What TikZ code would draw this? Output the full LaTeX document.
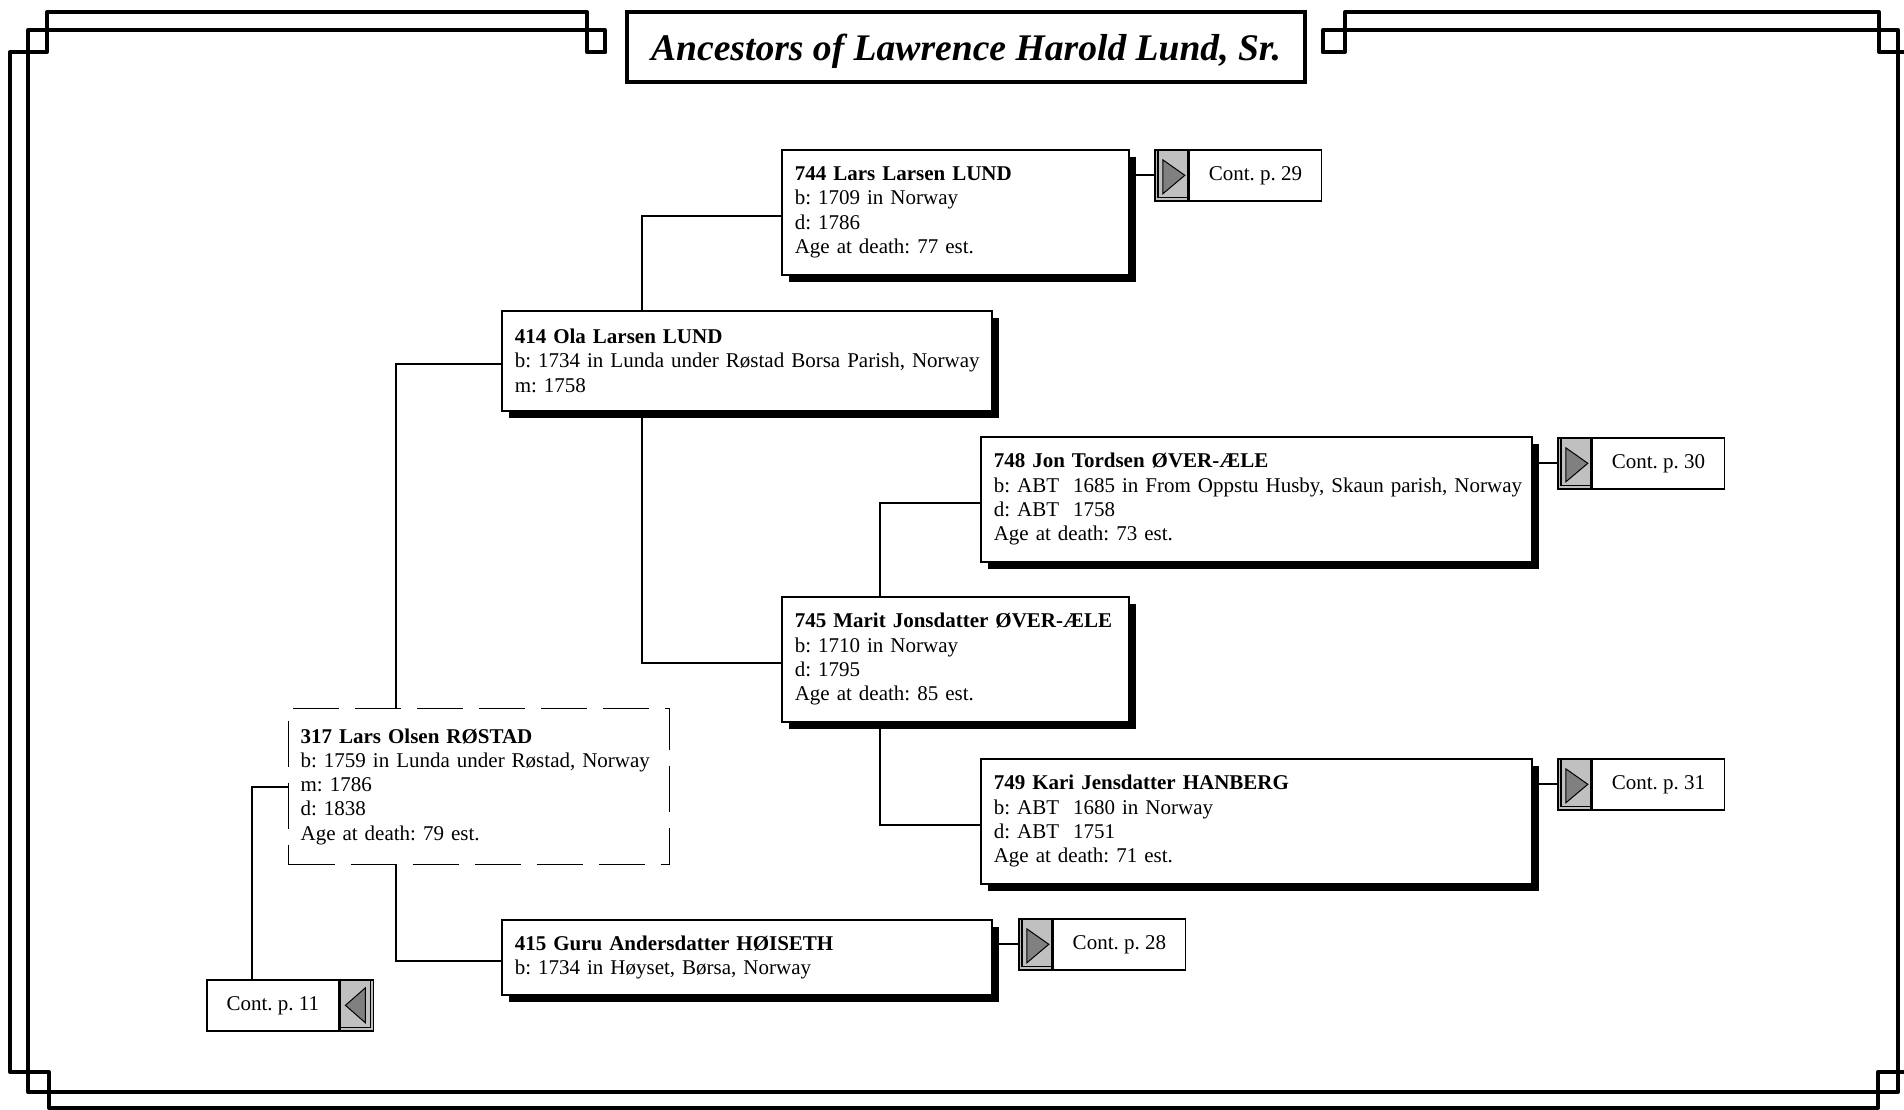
\documentclass[tikz,border=0pt]{standalone}
\usepackage{fontspec}
\setmainfont{Liberation Serif}
\usetikzlibrary{shadows,calc}
\definecolor{graybox}{HTML}{C0C0C0}
\definecolor{trigray}{HTML}{808080}
\tikzset{
  frameline/.style={line width=2pt, line join=round, line cap=round},
  person/.style={draw, line width=0.8pt, fill=white, anchor=north west, inner xsep=6.5pt, inner ysep=0pt, align=left, font=\frenchspacing\fontsize{10.5}{12.15}\selectfont},
  shadowed/.style={drop shadow={shadow xshift=3.5pt, shadow yshift=-3.5pt, opacity=1, fill=black}},
  dashedperson/.style={person, dash pattern=on 23pt off 8pt, line width=0.6pt},
  conn/.style={line width=1pt},
  contgray/.style={draw, line width=0.8pt, fill=graybox, minimum width=16.5pt, minimum height=25.5pt, inner sep=0pt},
  contwhite/.style={draw, line width=0.8pt, fill=white, minimum width=66pt, minimum height=25.5pt, inner sep=0pt, font=\frenchspacing\fontsize{10.5}{12.15}\selectfont},
  rightarrow/.style={contgray, path picture={
    \filldraw[fill=trigray, draw=black, line width=0.5pt]
      ([xshift=4pt,yshift=-5pt]path picture bounding box.north west) --
      ([xshift=4pt,yshift=3.5pt]path picture bounding box.south west) --
      ([xshift=-1.5pt]path picture bounding box.east) -- cycle;
    \draw[line width=0.6pt]
      ([xshift=1.6pt]path picture bounding box.north west) --
      ([xshift=1.6pt,yshift=1.6pt]path picture bounding box.south west) --
      ([yshift=1.6pt]path picture bounding box.south east);}},
  leftarrow/.style={contgray, path picture={
    \filldraw[fill=trigray, draw=black, line width=0.5pt]
      ([xshift=-4pt,yshift=-4pt]path picture bounding box.north east) --
      ([xshift=-4pt,yshift=4pt]path picture bounding box.south east) --
      ([xshift=2.5pt]path picture bounding box.west) -- cycle;
    \draw[line width=0.6pt]
      ([xshift=-1.6pt]path picture bounding box.north east) --
      ([xshift=-1.6pt,yshift=1.6pt]path picture bounding box.south east) --
      ([yshift=1.6pt]path picture bounding box.south west);}},
}
\begin{document}
\frenchspacing
\begin{tikzpicture}[x=0.5pt,y=-0.5pt]
\useasboundingbox (0,0) rectangle (1904,1109);
\fill[white] (0,0) rectangle (1904,1109);
% frame
\draw[frameline] (605,52) -- (605,30) -- (28,30) -- (28,1092) -- (1898,1092) -- (1898,30) -- (1323,30) -- (1323,52);
\draw[frameline] (605,52) -- (587,52) -- (587,12) -- (47,12) -- (47,52) -- (10,52) -- (10,1072) -- (49,1072) -- (49,1108) -- (1878,1108) -- (1878,1072) -- (1916,1072) -- (1916,52) -- (1879,52) -- (1879,12) -- (1345,12) -- (1345,52) -- (1323,52);
% title
\node[draw, line width=2pt, minimum width=339pt, minimum height=35pt, inner sep=0pt, text depth=0pt, anchor=north west, font=\fontsize{18.8}{22}\selectfont\bfseries\itshape] (title) at (625,10) {Ancestors of Lawrence Harold Lund, Sr.};
% persons
\node[person, shadowed, minimum width=173.5pt, text width=160.5pt, minimum height=62.5pt] (n744) at (781,149)
  {\textbf{744 Lars Larsen LUND}\\b: 1709 in Norway\\d: 1786\\Age at death: 77 est.};
\node[person, shadowed, minimum width=245pt, text width=232pt, minimum height=50pt] (n414) at (501,310)
  {\textbf{414 Ola Larsen LUND}\\\mbox{b: 1734 in Lunda under Røstad Borsa Parish, Norway}\\m: 1758};
\node[person, shadowed, minimum width=275.5pt, text width=262.5pt, minimum height=62.5pt] (n748) at (980,436)
  {\textbf{748 Jon Tordsen ØVER-ÆLE}\\\mbox{b: ABT\ \ 1685 in From Oppstu Husby, Skaun parish, Norway}\\d: ABT\ \ 1758\\Age at death: 73 est.};
\node[person, shadowed, minimum width=173.5pt, text width=160.5pt, minimum height=62.5pt] (n745) at (781,596)
  {\mbox{\textbf{745 Marit Jonsdatter ØVER-ÆLE}}\\b: 1710 in Norway\\d: 1795\\Age at death: 85 est.};
\node[person, shadowed, minimum width=275.5pt, text width=262.5pt, minimum height=62.5pt] (n749) at (980,758)
  {\textbf{749 Kari Jensdatter HANBERG}\\b: ABT\ \ 1680 in Norway\\d: ABT\ \ 1751\\Age at death: 71 est.};
\node[dashedperson, inner xsep=6pt, minimum width=190.5pt, text width=178.5pt, minimum height=78pt] (n317) at (288,708)
  {\textbf{317 Lars Olsen RØSTAD}\\\mbox{b: 1759 in Lunda under Røstad, Norway}\\m: 1786\\d: 1838\\Age at death: 79 est.};
\node[person, shadowed, minimum width=245pt, text width=232pt, minimum height=37.5pt] (n415) at (501,919)
  {\textbf{415 Guru Andersdatter HØISETH}\\b: 1734 in Høyset, Børsa, Norway};
% continuation boxes
\node[rightarrow, anchor=north west] (c29a) at (1154,149) {};
\node[contwhite, anchor=west] (c29) at (c29a.east) {Cont. p. 29};
\node[rightarrow, anchor=north west] (c30a) at (1557,437) {};
\node[contwhite, anchor=west] (c30) at (c30a.east) {Cont. p. 30};
\node[rightarrow, anchor=north west] (c31a) at (1557,758) {};
\node[contwhite, anchor=west] (c31) at (c31a.east) {Cont. p. 31};
\node[rightarrow, anchor=north west] (c28a) at (1018,918) {};
\node[contwhite, anchor=west] (c28) at (c28a.east) {Cont. p. 28};
\node[contwhite, anchor=north west] (c11) at (206,979) {Cont. p. 11};
\node[leftarrow, anchor=west] (c11a) at (c11.east) {};
% connectors
\coordinate (xa) at (642,0);
\coordinate (xb) at (396,0);
\coordinate (xc) at (880,0);
\coordinate (xd) at (252,0);
\draw[conn] ([yshift=-1.75pt]n744.west) -| (n414.north -| xa);
\draw[conn] (n414.south -| xa) |- ([yshift=-1.75pt]n745.west);
\draw[conn] ([yshift=-1.75pt]n414.west) -| (n317.north -| xb);
\draw[conn] (n317.south -| xb) |- ([yshift=-1.75pt]n415.west);
\draw[conn] ([yshift=-1.75pt]n748.west) -| (n745.north -| xc);
\draw[conn] (n745.south -| xc) |- ([yshift=-1.75pt]n749.west);
\draw[conn] (n317.west) -| (c11.north -| xd);
\draw[conn] (n744.east |- c29a.west) -- (c29a.west);
\draw[conn] (n748.east |- c30a.west) -- (c30a.west);
\draw[conn] (n749.east |- c31a.west) -- (c31a.west);
\draw[conn] (n415.east |- c28a.west) -- (c28a.west);
\end{tikzpicture}
\end{document}
